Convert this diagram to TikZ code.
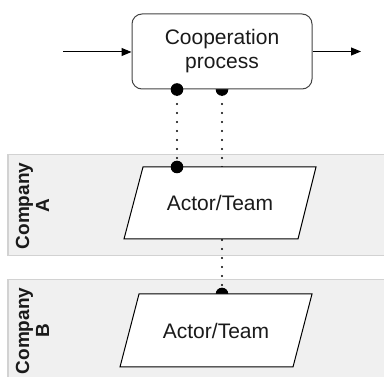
\documentclass[tikz,border=0pt]{standalone}
\usepackage{fontspec}
\setmainfont{Liberation Sans}
\usetikzlibrary{arrows.meta,calc}

\definecolor{lanefill}{HTML}{F0F0F0}
\definecolor{laneline}{HTML}{D2D2D2}
\definecolor{boxline}{HTML}{444444}
\definecolor{inkdark}{HTML}{1A1A1A}

\tikzset{
  lanebg/.style={fill=lanefill},
  laneedge/.style={draw=laneline, line width=1pt},
  lanelabel/.style={rotate=90, align=center, inner sep=0pt, text=inkdark,
    font=\fontsize{19}{20}\selectfont\bfseries},
  procbox/.style={draw=boxline, fill=white, rounded corners=10pt, line width=1pt,
    minimum width=180pt, minimum height=75pt, align=center, inner sep=0pt,
    text=inkdark, font=\fontsize{21}{24}\selectfont},
  actorshape/.style={draw=black, fill=white, line width=1pt, line join=miter},
  actortext/.style={inner sep=0pt, text=inkdark, font=\fontsize{21}{24}\selectfont},
  flow/.style={draw=black, line width=1pt, -{Triangle[length=10pt,width=8pt]}},
  link/.style={draw=black, line width=2.2pt, line cap=round, dash pattern=on 0pt off 9pt},
  joint/.style={fill=black, draw=none},
}

\begin{document}
\begin{tikzpicture}[x=1pt, y=-1pt]
  \useasboundingbox (0,0) rectangle (384,377);

  % swim lanes
  \fill[lanebg] (8,155) rectangle (392,256);
  \draw[laneedge] (392,155) -- (8,155) -- (8,256) -- (392,256);
  \fill[lanebg] (8,280) rectangle (392,390);
  \draw[laneedge] (392,280) -- (8,280) -- (8,390);
  \node[lanelabel] (labA) at (32.5,206) {Company\\A};
  \node[lanelabel] (labB) at (32.5,331) {Company\\B};

  % centres of the actor shapes
  \coordinate (cA) at (220,203);
  \coordinate (cB) at (216,330.5);

  % anchor points for the links
  \coordinate (pl) at (177,89.5);
  \coordinate (pr) at (222,89.5);
  \coordinate (al) at (177,167);
  \coordinate (ar) at (222,167);
  \coordinate (ab) at (222,239);
  \coordinate (bt) at (222,294);

  % half-hidden joints sit beneath the shapes
  \fill[joint] (pr) circle (6.3pt);
  \fill[joint] (bt) circle (6.3pt);

  % dotted links
  \draw[link] (al) -- (pl);
  \draw[link] (ar) -- (pr);
  \draw[link] (bt) -- (ab);

  % process box
  \node[procbox] (proc) at (222,51.5) {Cooperation\\process};

  % actor parallelograms
  \draw[actorshape] ($(cA)+(-77,-36)$) -- ($(cA)+(96,-36)$)
    -- ($(cA)+(78,36)$) -- ($(cA)+(-96,36)$) -- cycle;
  \node[actortext] (actA) at (cA) {Actor/Team};
  \draw[actorshape] ($(cB)+(-77,-36.5)$) -- ($(cB)+(96,-36.5)$)
    -- ($(cB)+(77,36.5)$) -- ($(cB)+(-96,36.5)$) -- cycle;
  \node[actortext] (actB) at (cB) {Actor/Team};

  % full joints on top
  \fill[joint] (pl) circle (6.3pt);
  \fill[joint] (al) circle (6.3pt);

  % process flow
  \coordinate (in) at (63,52);
  \coordinate (out) at (361,51.5);
  \draw[flow] (in) -- (proc.west |- in);
  \draw[flow] (proc.east) -- (out);
\end{tikzpicture}
\end{document}
